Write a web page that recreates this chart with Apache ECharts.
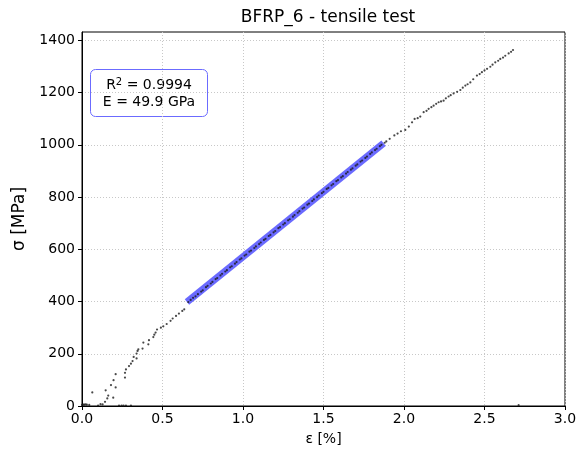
<!DOCTYPE html>
<html>
<head>
<meta charset="utf-8">
<script src="https://cdn.jsdelivr.net/npm/echarts@6/dist/echarts.min.js"></script>
<style>
  html, body { margin: 0; padding: 0; background: #fff; }
  #chart { width: 587px; height: 458px; }
</style>
</head>
<body>
<div id="chart"></div>
<script>
// tick values
const xTicks = [0, 0.5, 1.0, 1.5, 2.0, 2.5, 3.0]
const yTicks = [0, 200, 400, 600, 800, 1000, 1200, 1400]

// toe region (start of the test)
const toeStrain = [0.0, 0.008, 0.014, 0.022, 0.03, 0.045, 0.064, 0.10, 0.115, 0.128, 0.143, 0.147, 0.157, 0.163,
  0.18, 0.194, 0.196, 0.209, 0.209, 0.23, 0.246, 0.258, 0.273, 0.304, 0.267, 0.267, 0.273, 0.292, 0.304,
  0.314, 0.321, 0.339, 0.345, 0.35, 0.339, 0.376, 0.381, 0.412, 0.416, 0.443, 0.449, 0.457, 0.466, 0.49,
  0.505, 0.526, 0.55, 0.563, 0.584, 0.602, 0.623, 0.635]
const toeStress = [4, 5, 5, 6, 5, 4, 52, 2, 7, 6, 16, 60, 29, 40,
  80, 32, 99, 71, 122, 2, 2, 2, 2, 2, 109, 127, 140, 153, 162,
  172, 188, 201, 211, 217, 182, 220, 243, 236, 252, 264, 273, 281, 293, 300,
  305, 314, 326, 335, 345, 354, 364, 370]

// linear region (inside the fitted range)
const linStrain = [0.66, 0.675, 0.69, 0.705, 0.72, 0.74, 0.75, 0.77, 0.78, 0.80, 0.81, 0.83, 0.84, 0.86, 0.87,
  0.89, 0.90, 0.92, 0.93, 0.95, 0.96, 0.98, 0.99, 1.01, 1.02, 1.04, 1.05, 1.07, 1.08, 1.10, 1.11, 1.13,
  1.14, 1.16, 1.17, 1.19, 1.20, 1.22, 1.23, 1.25, 1.26, 1.28, 1.29, 1.31, 1.32, 1.34, 1.35, 1.37, 1.38,
  1.40, 1.41, 1.43, 1.44, 1.46, 1.47, 1.49, 1.50, 1.52, 1.53, 1.55, 1.56, 1.58, 1.59, 1.61, 1.62, 1.64,
  1.65, 1.67, 1.68, 1.70, 1.71, 1.73, 1.74, 1.76, 1.77, 1.79, 1.80, 1.82, 1.83, 1.85, 1.86, 1.88, 1.89]
const linStress = [398, 406, 414, 420, 428, 438, 443, 455, 460, 469, 475, 486, 490, 500, 506,
  515, 520, 531, 535, 545, 551, 561, 565, 576, 580, 591, 595, 605, 611, 620, 626, 636,
  640, 651, 655, 665, 670, 681, 685, 695, 700, 711, 715, 725, 731, 740, 746, 756, 760,
  771, 775, 785, 791, 800, 806, 815, 820, 831, 835, 845, 850, 861, 865, 875, 880, 890,
  896, 905, 910, 920, 925, 936, 940, 950, 955, 965, 971, 980, 985, 995, 1000, 1008, 1013]

// upper region up to failure
const topStrain = [1.911, 1.94, 1.96, 1.981, 2.008, 2.03, 2.05, 2.066, 2.085, 2.101, 2.122, 2.14, 2.153, 2.17,
  2.184, 2.20, 2.215, 2.23, 2.246, 2.26, 2.277, 2.29, 2.308, 2.33, 2.35, 2.365, 2.381, 2.395, 2.412,
  2.43, 2.453, 2.47, 2.484, 2.50, 2.516, 2.536, 2.55, 2.567, 2.585, 2.598, 2.615, 2.629, 2.65, 2.665, 2.677, 2.712]
const topStress = [1023, 1036, 1043, 1052, 1057, 1070, 1086, 1099, 1102, 1108, 1125, 1130, 1138, 1144,
  1150, 1157, 1163, 1166, 1169, 1178, 1185, 1190, 1197, 1203, 1210, 1219, 1227, 1232, 1239,
  1251, 1265, 1271, 1278, 1285, 1291, 1299, 1307, 1316, 1322, 1329, 1334, 1341, 1350, 1356, 1363, 3]

// linear fit range shown as a band
const fitStrain = [0.652, 1.873]
const fitStress = [398, 1006]

const zip = (a, b) => a.map((v, i) => [v, b[i]])
const allPoints = zip(toeStrain, toeStress).concat(zip(linStrain, linStress), zip(topStrain, topStress))

const font = 'DejaVu Sans'
const chart = echarts.init(document.getElementById('chart'))

chart.setOption({
  animation: false,
  textStyle: { fontFamily: font },
  title: {
    text: 'BFRP_6 - tensile test',
    left: 323,
    textAlign: 'center',
    top: 4,
    textStyle: { fontFamily: font, fontSize: 17, fontWeight: 'normal', color: '#000' }
  },
  grid: {
    left: 82, right: 22, top: 32, bottom: 52,
    show: true, borderColor: '#000', borderWidth: 1
  },
  xAxis: {
    type: 'value',
    min: 0, max: 3, interval: 0.5,
    name: 'ε [%]',
    nameLocation: 'middle',
    nameGap: 26,
    nameTextStyle: { fontFamily: font, fontSize: 14, color: '#000' },
    axisLine: { show: true, onZero: false, lineStyle: { color: '#000' } },
    axisTick: { show: true, length: 4, customValues: xTicks, lineStyle: { color: '#000' } },
    axisLabel: {
      fontFamily: font, fontSize: 14, color: '#000', margin: 6, customValues: xTicks,
      formatter: v => v.toFixed(1)
    },
    splitLine: { show: true, lineStyle: { color: '#c8c8c8', type: [1, 2] } }
  },
  yAxis: {
    type: 'value',
    min: 0, max: 1432, interval: 200,
    name: 'σ [MPa]',
    nameLocation: 'middle',
    nameGap: 53,
    nameTextStyle: { fontFamily: font, fontSize: 17, color: '#000' },
    axisLine: { show: true, onZero: false, lineStyle: { color: '#000' } },
    axisTick: { show: true, length: 4, customValues: yTicks, lineStyle: { color: '#000' } },
    axisLabel: {
      fontFamily: font, fontSize: 14, color: '#000', margin: 7, customValues: yTicks,
      formatter: v => String(v)
    },
    splitLine: { show: true, lineStyle: { color: '#c8c8c8', type: [1, 2] } }
  },
  graphic: [{
    type: 'group',
    left: 90, top: 69,
    children: [{
      type: 'rect',
      shape: { x: 0, y: 0, width: 117, height: 47, r: 5 },
      style: { fill: '#fff', stroke: '#6b6bff', lineWidth: 1 }
    }, {
      type: 'text',
      x: 58.5, y: 16,
      style: {
        text: '{n|R}{s|2}{n| = 0.9994}',
        align: 'center', verticalAlign: 'middle',
        rich: {
          n: { fontFamily: font, fontSize: 14, fill: '#000', lineHeight: 18 },
          s: { fontFamily: font, fontSize: 10, fill: '#000', lineHeight: 18, padding: [0, 0, 7, 0] }
        }
      }
    }, {
      type: 'text',
      x: 58.5, y: 33,
      style: {
        text: 'E = 49.9 GPa',
        align: 'center', verticalAlign: 'middle',
        fontFamily: font, fontSize: 14, fill: '#000'
      }
    }]
  }],
  series: [
    {
      name: 'fit',
      type: 'line',
      data: zip(fitStrain, fitStress),
      showSymbol: false,
      symbol: 'none',
      lineStyle: { color: '#6a6aff', width: 7, cap: 'butt' },
      z: 1
    },
    {
      name: 'data',
      type: 'scatter',
      data: allPoints,
      symbol: 'circle',
      symbolSize: 2.2,
      itemStyle: { color: '#1a1a1a' },
      z: 2
    }
  ]
})
</script>
</body>
</html>
